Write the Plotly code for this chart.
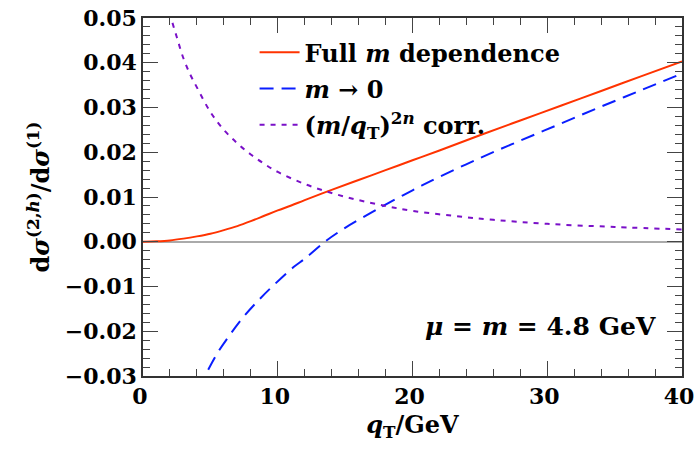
import plotly.graph_objects as go

# q_T values (GeV) and curves
q_full = [0, 1, 2, 3, 4, 5, 6, 7, 8, 9, 10, 11, 12, 14, 16, 18, 20, 22, 25, 28, 31, 34, 37, 40]
full_m = [0, 0.0001, 0.0003, 0.0007, 0.0012, 0.0018, 0.0026, 0.0035, 0.0046, 0.0058, 0.0070, 0.0081,
          0.0093, 0.0116, 0.0138, 0.0160, 0.0182, 0.0204, 0.0238, 0.0271, 0.0304, 0.0337, 0.0370, 0.0403]

q_m0 = [3.5, 4, 4.63, 5.5, 6.4, 7.4, 8.5, 9.7, 11.2, 12, 13.5, 15, 17, 18, 20, 22, 25, 28, 31, 34, 37, 40]
m_to_0 = [-0.0375, -0.0336, -0.0298, -0.0250, -0.0210, -0.0170, -0.0133, -0.0097, -0.0056, -0.0038,
          0.0, 0.0031, 0.0066, 0.0083, 0.0115, 0.0145, 0.0187, 0.0226, 0.0264, 0.0302, 0.0339, 0.0376]

q_corr = [1.5, 2, 2.5, 3, 3.5, 4, 5, 6, 7, 8, 9, 10, 12, 14, 16, 18, 20, 23, 26, 30, 35, 40]
corr = [0.056, 0.0508, 0.0458, 0.0410, 0.0374, 0.0345, 0.0290, 0.0250, 0.0220, 0.0195, 0.0174, 0.0156,
        0.0129, 0.0109, 0.0093, 0.0080, 0.0069, 0.0058, 0.0049, 0.0040, 0.0033, 0.00275]

x_ticks = [0, 10, 20, 30, 40]
x_labels = ["0", "10", "20", "30", "40"]
x_minor = [v for v in range(0, 41, 2) if v % 10]
y_ticks = [-0.03, -0.02, -0.01, 0.0, 0.01, 0.02, 0.03, 0.04, 0.05]
y_labels = ["−0.03", "−0.02", "−0.01", "0.00", "0.01", "0.02", "0.03", "0.04", "0.05"]
y_minor = [round(-0.03 + 0.002 * i, 3) for i in range(41) if i % 5]

X_RANGE = [0, 40]
Y_RANGE = [-0.03, 0.05]

FONT = "DejaVu Serif"
FS = 24
TFS = 22
TICKC = "#444444"
LINEC = "#333333"

fig = go.Figure()
fig.add_trace(go.Scatter(x=q_full, y=full_m, mode="lines", legendgroup="a",
                         line=dict(color="#ff3300", width=2, shape="spline"),
                         name="<b>Full <i>m</i> dependence</b>"))
fig.add_trace(go.Scatter(x=q_m0, y=m_to_0, mode="lines", legendgroup="b",
                         line=dict(color="#0a1eff", width=2, dash="14px,8px", shape="spline"),
                         name="<b><i>m</i> → 0</b>"))
fig.add_trace(go.Scatter(x=q_corr, y=corr, mode="lines", legendgroup="c",
                         line=dict(color="#7a10c8", width=2, dash="5px,6px", shape="spline"),
                         name="<b>(<i>m</i>/<i>q</i><sub>T</sub>)<sup>2<i>n</i></sup> corr.</b>"))
# empty traces so the overlay (tick-only) axes get drawn
for k in (2, 3, 4):
    fig.add_trace(go.Scatter(x=[], y=[], xaxis="x%d" % k, yaxis="y%d" % k, showlegend=False, hoverinfo="skip"))


def tick_axis(rng, overlay, side, anchor, vals, length):
    return dict(range=rng, overlaying=overlay, side=side, anchor=anchor, tickmode="array", tickvals=vals,
                showticklabels=False, showline=False, ticks="inside", ticklen=length, tickwidth=1.2,
                tickcolor=TICKC, showgrid=False, zeroline=False, automargin=False)


fig.update_layout(
    template="simple_white",
    xaxis=dict(range=X_RANGE, tickmode="array", tickvals=x_ticks, ticktext=["<b>%s</b>" % t for t in x_labels],
               showline=True, linecolor=LINEC, linewidth=1.5, mirror=True,
               ticks="inside", ticklen=15, tickwidth=1.2, tickcolor=TICKC,
               showgrid=False, zeroline=False, automargin=False, ticklabeloverflow="allow", ticklabelshift=-3,
               tickfont=dict(family=FONT, size=TFS, color="black"),
               title=dict(text="<b><i>q</i><sub>T</sub>/GeV</b>", font=dict(family=FONT, size=FS, color="black"), standoff=8)),
    yaxis=dict(range=Y_RANGE, tickmode="array", tickvals=y_ticks, ticktext=["<b>%s</b>" % t for t in y_labels],
               showline=True, linecolor=LINEC, linewidth=1.5, mirror=True,
               ticks="inside", ticklen=15, tickwidth=1.2, tickcolor=TICKC,
               showgrid=False, zeroline=True, zerolinecolor="#aaaaaa", zerolinewidth=1.8,
               automargin=False, ticklabeloverflow="allow",
               tickfont=dict(family=FONT, size=TFS, color="black"),
               title=dict(text="<b>d<i>σ</i><sup>(2,<i>h</i>)</sup>/d<i>σ</i><sup>(1)</sup></b>",
                          font=dict(family=FONT, size=FS, color="black"), standoff=8)),
    xaxis2=tick_axis(X_RANGE, "x", "bottom", "y", x_minor, 7),
    yaxis2=tick_axis(Y_RANGE, "y", "left", "x", y_minor, 7),
    xaxis3=tick_axis(X_RANGE, "x", "top", "y", x_ticks, 15),
    yaxis3=tick_axis(Y_RANGE, "y", "right", "x", y_ticks, 15),
    xaxis4=tick_axis(X_RANGE, "x", "top", "y", x_minor, 7),
    yaxis4=tick_axis(Y_RANGE, "y", "right", "x", y_minor, 7),
)

fig.add_annotation(x=0.955, y=0.137, xref="paper", yref="paper", xanchor="right", yanchor="middle",
                   text="<b><i>μ</i> = <i>m</i> = 4.8 GeV</b>", showarrow=False,
                   font=dict(family=FONT, size=25, color="black"))

fig.update_layout(
    width=695, height=461,
    margin=dict(l=143, r=13, t=18, b=85),
    paper_bgcolor="white", plot_bgcolor="white",
    font=dict(family=FONT, size=FS, color="black"),
    showlegend=True,
    legend=dict(x=0.207, y=0.966, xanchor="left", yanchor="top", bgcolor="rgba(0,0,0,0)",
                font=dict(family=FONT, size=FS, color="black"), itemwidth=40, tracegroupgap=2),
)

fig.write_html("out.html", config={"displayModeBar": False},
               post_script="document.body.style.margin='0';")
